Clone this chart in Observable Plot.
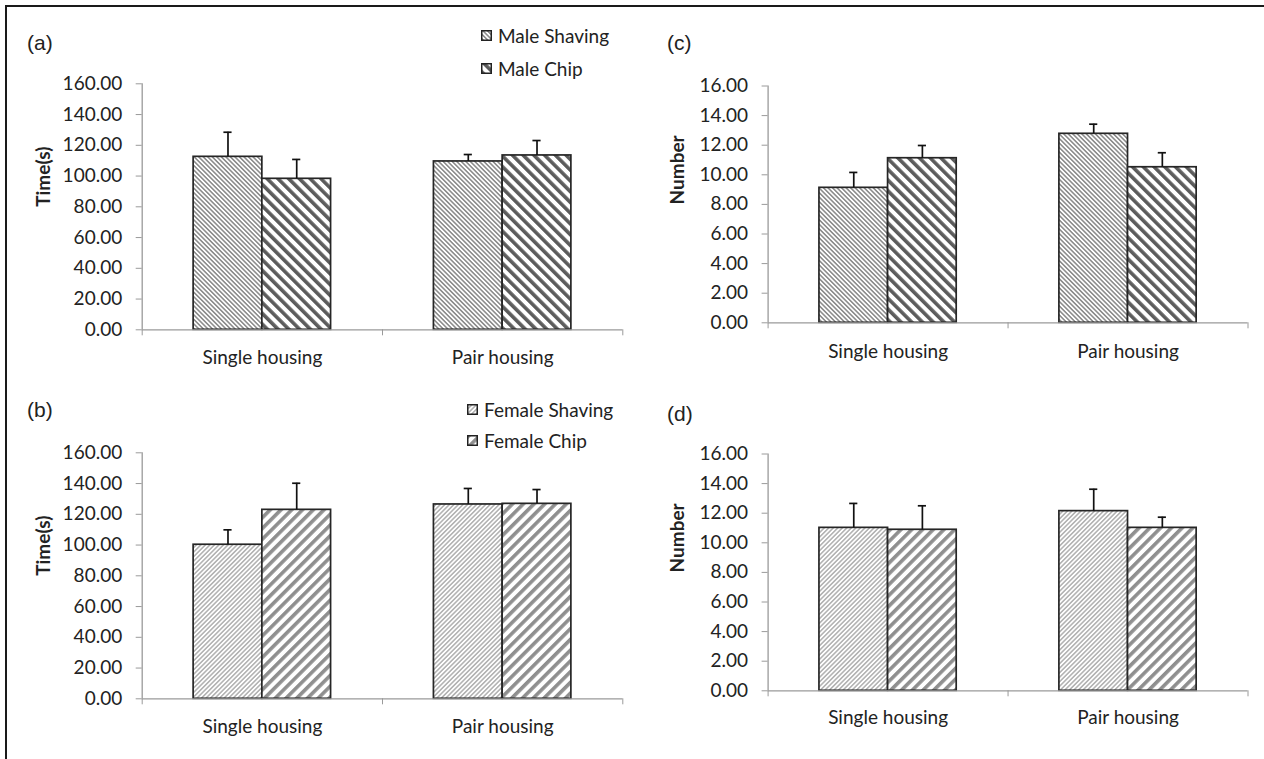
<!DOCTYPE html>
<html>
<head>
<meta charset="utf-8">
<script src="https://cdn.jsdelivr.net/npm/d3@7"></script>
<script src="https://cdn.jsdelivr.net/npm/@observablehq/plot@0.6"></script>
<style>
  body { margin: 0; background: #fff; }
  #page { position: relative; width: 1264px; height: 759px; overflow: hidden; background: #fff; font-family: Lato, sans-serif; color: #222; }
  #frame { position: absolute; left: 5px; top: 5px; width: 1270px; height: 770px; border-left: 2.5px solid #1a1a1a; border-top: 2.5px solid #1a1a1a; box-sizing: border-box; }
  .plbl { position: absolute; font-family: "Liberation Sans", Arial, sans-serif; font-size: 21px; color: #222; transform: translateY(-50%); line-height: 1; }
  .leg { position: absolute; font-family: Lato, sans-serif; font-size: 19px; color: #222; transform: translateY(-50%); line-height: 1; white-space: nowrap; }
  .legbox { position: absolute; }
</style>
</head>
<body>
<svg width="0" height="0" style="position:absolute">
  <defs>
    <pattern id="pMaleShaving" patternUnits="userSpaceOnUse" width="3.2" height="3.2" patternTransform="rotate(-45)">
      <rect width="3.2" height="3.2" fill="#ffffff"/><rect width="1.6" height="3.2" fill="#8e8e8e"/>
    </pattern>
    <pattern id="pMaleChip" patternUnits="userSpaceOnUse" width="7.6" height="7.6" patternTransform="rotate(-45)">
      <rect width="7.6" height="7.6" fill="#ffffff"/><rect width="3.6" height="7.6" fill="#5c5c5c"/>
    </pattern>
    <pattern id="pFemaleShaving" patternUnits="userSpaceOnUse" width="3.2" height="3.2" patternTransform="rotate(45)">
      <rect width="3.2" height="3.2" fill="#ffffff"/><rect width="1.6" height="3.2" fill="#b4b4b4"/>
    </pattern>
    <pattern id="pFemaleChip" patternUnits="userSpaceOnUse" width="7.6" height="7.6" patternTransform="rotate(45)">
      <rect width="7.6" height="7.6" fill="#ffffff"/><rect width="3.6" height="7.6" fill="#8f8f8f"/>
    </pattern>
  </defs>
</svg>
<div id="page"><div id="frame"></div></div>
<script>
// ---------- data ----------
const categories = ["Single housing", "Pair housing"];
const panelLabels = ["(a)", "(b)", "(c)", "(d)"];
const maleSeries = ["Male Shaving", "Male Chip"];
const femaleSeries = ["Female Shaving", "Female Chip"];
const timeLabel = "Time(s)";
const numberLabel = "Number";
const timeTicks = [0, 20, 40, 60, 80, 100, 120, 140, 160];
const numberTicks = [0, 2, 4, 6, 8, 10, 12, 14, 16];

// (a) male, time
const maleTimeShaving = [112.5, 109.5];
const maleTimeShavingErr = [16.0, 4.5];
const maleTimeChip = [98.2, 113.4];
const maleTimeChipErr = [12.6, 9.7];
// (b) female, time
const femaleTimeShaving = [100.2, 126.4];
const femaleTimeShavingErr = [9.7, 10.4];
const femaleTimeChip = [122.9, 126.8];
const femaleTimeChipErr = [17.3, 9.3];
// (c) male, number
const maleNumShaving = [9.12, 12.77];
const maleNumShavingErr = [1.04, 0.65];
const maleNumChip = [11.12, 10.51];
const maleNumChipErr = [0.86, 0.98];
// (d) female, number
const femaleNumShaving = [11.01, 12.14];
const femaleNumShavingErr = [1.65, 1.48];
const femaleNumChip = [10.88, 11.01];
const femaleNumChipErr = [1.62, 0.72];

// ---------- drawing ----------
const page = document.getElementById("page");
const AXIS = "#9a9a9a";
const BAR_W = 0.286;   // bar width as fraction of a category slot
const CAP = 0.017;     // half cap width, in category units

function makeRows(shv, shvErr, chp, chpErr) {
  const rows = [];
  categories.forEach((c, i) => {
    rows.push({cat: c, i, s: 0, v: shv[i], e: shvErr[i]});
    rows.push({cat: c, i, s: 1, v: chp[i], e: chpErr[i]});
  });
  return rows;
}

function panel(opts) {
  const rows = makeRows(...opts.values);
  const x1 = d => d.i + 0.5 - BAR_W + d.s * BAR_W;
  const x2 = d => x1(d) + BAR_W;
  const xc = d => x1(d) + BAR_W / 2;
  const svg = Plot.plot({
    width: opts.width,
    height: opts.height,
    marginLeft: opts.mL,
    marginRight: opts.mR,
    marginTop: opts.mT,
    marginBottom: opts.mB,
    x: {domain: [0, categories.length]},
    y: {domain: [0, opts.ticks[opts.ticks.length - 1]]},
    style: {background: "transparent", fontFamily: "Lato, sans-serif", fontSize: "19px", color: "#222", overflow: "visible"},
    marks: [
      Plot.rectY(rows.filter(d => d.s === 0), {x1, x2, y: "v", fill: opts.fills[0], stroke: "#262626", strokeWidth: 1.7}),
      Plot.rectY(rows.filter(d => d.s === 1), {x1, x2, y: "v", fill: opts.fills[1], stroke: "#262626", strokeWidth: 1.7}),
      Plot.ruleX(rows, {x: xc, y1: "v", y2: d => d.v + d.e, stroke: "#111", strokeWidth: 1.7}),
      Plot.ruleY(rows, {y: d => d.v + d.e, x1: d => xc(d) - CAP, x2: d => xc(d) + CAP, stroke: "#111", strokeWidth: 1.7}),
      Plot.ruleX([0], {stroke: AXIS, strokeWidth: 1.3}),
      Plot.ruleY([0], {stroke: AXIS, strokeWidth: 1.3}),
      Plot.axisY({ticks: opts.ticks, tickFormat: d3.format(".2f"), tickSize: 6, tickPadding: 14, stroke: AXIS, label: null}),
      Plot.axisX({ticks: d3.range(0, categories.length + 1), tickFormat: () => "", tickSize: 6, stroke: AXIS, label: null}),
      Plot.text(categories, {x: (d, i) => i + 0.5, frameAnchor: "bottom", dy: opts.catDy, text: d => d, fontSize: 19, fill: "#222"}),
      Plot.text([opts.yLabel], {frameAnchor: "left", rotate: -90, dx: opts.titleDx, text: d => d, fontWeight: "bold", fontSize: 19, fill: "#222"})
    ]
  });
  svg.style.position = "absolute";
  svg.style.left = opts.left + "px";
  svg.style.top = opts.top + "px";
  page.appendChild(svg);
}

panel({values: [maleTimeShaving, maleTimeShavingErr, maleTimeChip, maleTimeChipErr],
  left: 0, top: 0, width: 640, height: 380, mL: 141.7, mR: 17.7, mT: 83.3, mB: 50.7,
  ticks: timeTicks, yLabel: timeLabel, titleDx: -98.7, catDy: 34,
  fills: ["url(#pMaleShaving)", "url(#pMaleChip)"]});
panel({values: [femaleTimeShaving, femaleTimeShavingErr, femaleTimeChip, femaleTimeChipErr],
  left: 0, top: 369, width: 640, height: 380, mL: 141.7, mR: 17.7, mT: 83.3, mB: 50.7,
  ticks: timeTicks, yLabel: timeLabel, titleDx: -98.7, catDy: 34,
  fills: ["url(#pFemaleShaving)", "url(#pFemaleChip)"]});
panel({values: [maleNumShaving, maleNumShavingErr, maleNumChip, maleNumChipErr],
  left: 630, top: 0, width: 634, height: 380, mL: 137.6, mR: 16.5, mT: 85.5, mB: 57.7,
  ticks: numberTicks, yLabel: numberLabel, titleDx: -89.8, catDy: 35,
  fills: ["url(#pMaleShaving)", "url(#pMaleChip)"]});
panel({values: [femaleNumShaving, femaleNumShavingErr, femaleNumChip, femaleNumChipErr],
  left: 630, top: 367.7, width: 634, height: 380, mL: 137.6, mR: 16.5, mT: 85.5, mB: 57.7,
  ticks: numberTicks, yLabel: numberLabel, titleDx: -89.8, catDy: 33,
  fills: ["url(#pFemaleShaving)", "url(#pFemaleChip)"]});

// panel letters
const letterPos = [[27, 42], [27, 409], [667, 42], [667, 413]];
panelLabels.forEach((t, k) => {
  const el = document.createElement("div");
  el.className = "plbl";
  el.textContent = t;
  el.style.left = letterPos[k][0] + "px";
  el.style.top = letterPos[k][1] + "px";
  page.appendChild(el);
});

// legends
function legend(names, fills, x, ys) {
  names.forEach((n, k) => {
    const ns = "http://www.w3.org/2000/svg";
    const s = document.createElementNS(ns, "svg");
    s.setAttribute("width", 11); s.setAttribute("height", 11);
    s.setAttribute("class", "legbox");
    s.style.left = x + "px"; s.style.top = (ys[k] - 5.5) + "px";
    const r = document.createElementNS(ns, "rect");
    r.setAttribute("x", 0.75); r.setAttribute("y", 0.75); r.setAttribute("width", 9.5); r.setAttribute("height", 9.5);
    r.setAttribute("fill", fills[k]); r.setAttribute("stroke", "#222"); r.setAttribute("stroke-width", 1.5);
    s.appendChild(r);
    page.appendChild(s);
    const t = document.createElement("div");
    t.className = "leg";
    t.textContent = n;
    t.style.left = (x + 17) + "px";
    t.style.top = ys[k] + "px";
    page.appendChild(t);
  });
}
legend(maleSeries, ["url(#pMaleShaving)", "url(#pMaleChip)"], 481, [35, 68]);
legend(femaleSeries, ["url(#pFemaleShaving)", "url(#pFemaleChip)"], 467, [409, 440]);
</script>
</body>
</html>
